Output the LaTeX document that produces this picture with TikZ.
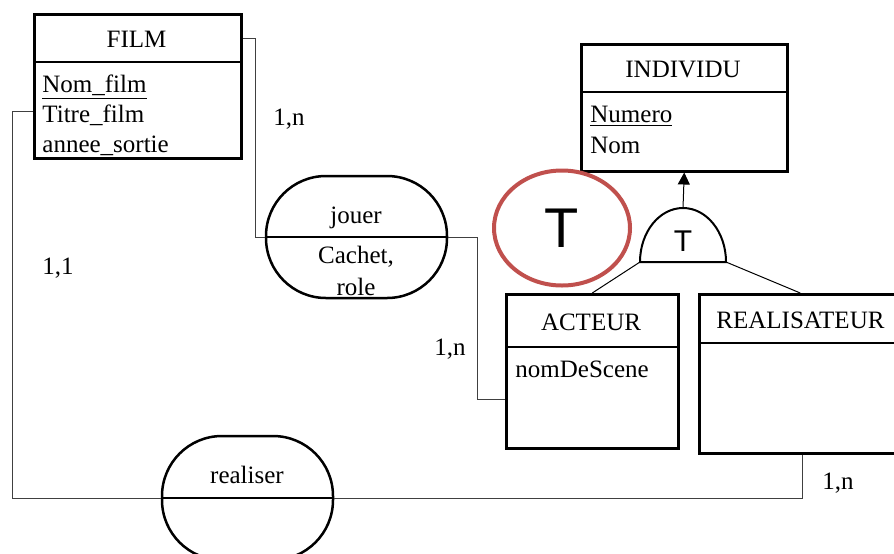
\documentclass[tikz,border=0pt]{standalone}
\usepackage{fontspec}
\setmainfont{Liberation Serif}
\newfontfamily\arialfont{Liberation Sans}
\usetikzlibrary{arrows.meta,shapes.geometric}
\definecolor{markred}{RGB}{192,80,77}
\tikzset{
  entity/.style={draw, line width=1.25pt, inner sep=0pt, anchor=north west},
  title/.style={anchor=base, inner sep=0pt},
  attr/.style={anchor=base west, inner sep=0pt},
  assoc/.style={draw, line width=1.25pt, rounded corners=30pt, inner sep=0pt},
  lien/.style={draw=black!75, line width=0.5pt},
  card/.style={inner sep=0pt}
}

\begin{document}
\begin{tikzpicture}[x=0.5pt, y=-0.5pt, font=\fontsize{12.5}{15}\selectfont]
\useasboundingbox (0,0) rectangle (894,553);
\clip (0,0) rectangle (894,553);
% entites
\node[entity, minimum width=103.5pt, minimum height=72pt] (film) at (33,13) {};
\node[entity, minimum width=103pt, minimum height=63.5pt] (individu) at (580,43) {};
\node[entity, minimum width=86pt, minimum height=77pt] (acteur) at (505,293) {};
\node[entity, minimum width=101pt, minimum height=79.5pt] (realisateur) at (698,293) {};
\draw[line width=1.25pt] (film.west |- 0,62) -- (film.east |- 0,62);
\draw[line width=1.25pt] (individu.west |- 0,92) -- (individu.east |- 0,92);
\draw[line width=1.25pt] (acteur.west |- 0,347) -- (acteur.east |- 0,347);
\draw[line width=1.25pt] (realisateur.west |- 0,343) -- (realisateur.east |- 0,343);
%
\node[title] (filmT) at (136.5,47) {FILM};
\node[title] (individuT) at (683,77) {INDIVIDU};
\node[title] (acteurT) at (591,330) {ACTEUR};
\node[attr] (realisateurT) at (716,328) {REALISATEUR};
%
\node[attr] (nomfilm) at (42,92) {\underline{Nom\_film}};
\node[attr] (titre) at (42,122) {Titre\_film};
\node[attr] (annee) at (42,152) {annee\_sortie};
\node[attr] (numero) at (590,122) {\underline{Numero}};
\node[attr] (nom) at (590,153) {Nom};
\node[attr] (scene) at (515,377) {nomDeScene};
% associations
\node[assoc, minimum width=90.5pt, minimum height=61pt] (jouer) at (356.5,237) {};
\draw[line width=1.25pt] (jouer.west) -- (jouer.east);
\node[title] (jouerT) at (356,223) {jouer};
\node[title] (jouerA) at (356,263) {Cachet,};
\node[title] (jouerB) at (356,295) {role};
\node[assoc, minimum width=85.5pt, minimum height=62pt] (realiser) at (247.5,498) {};
\draw[line width=1.25pt] (realiser.west) -- (realiser.east);
\node[title] (realiserT) at (247,483) {realiser};
% liens
\draw[lien] (film.east |- filmT) -- ++(13,0) |- (jouer.west);
\draw[lien] (jouer.east) -- ++(29,0) |- ([yshift=25pt]acteur.south west);
\draw[lien] ([yshift=-12.5pt]film.west) -- ++(-21,0) |- (realiser.west);
\draw[lien] (realiser.east) -| ([xshift=52pt]realisateur.south west);
%
\node[card] (c1) at (289,119) {1,n};
\node[card] (c2) at (450,349) {1,n};
\node[card] (c3) at (58,268) {1,1};
\node[card] (c4) at (838,483) {1,n};
% heritage
\coordinate (isa) at (683,262);
\draw[line width=1pt] ([xshift=-21.5pt]isa) arc[start angle=180, end angle=0, x radius=21.5pt, y radius=27pt] -- cycle;
\node[inner sep=0pt, font=\arialfont\fontsize{15}{18}\selectfont] (isaT) at (683,241) {T};
\draw[-{Triangle[width=6pt,length=6pt]}, line width=0.5pt] ([yshift=27pt]isa) -- (individu.south);
\draw[line width=0.5pt] ([xshift=-21.5pt]isa) -- (acteur.north);
\draw[line width=0.5pt] ([xshift=21.5pt]isa) -- (realisateur.north);
%
\node[draw=markred, line width=2pt, ellipse, minimum width=68pt, minimum height=57.5pt, inner sep=0pt, font=\arialfont\fontsize{28}{30}\selectfont] (marque) at (562,228) {T};
\end{tikzpicture}
\end{document}
